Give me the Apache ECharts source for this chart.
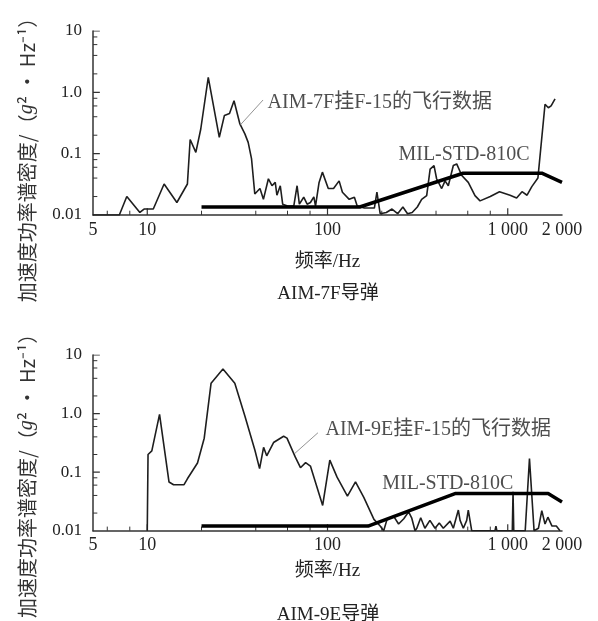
<!DOCTYPE html>
<html>
<head>
<meta charset="utf-8">
<script src="https://cdn.jsdelivr.net/npm/echarts@6/dist/echarts.min.js"></script>
<style>
  html, body { margin: 0; background: #fff; }
  #chart { width: 598px; height: 621px; }
</style>
</head>
<body>
<div id="chart"></div>
<script>
// tick values / labels
const xTickValues = [5, 10, 100, 1000, 2000];
const xTickLabels = ['5', '10', '100', '1 000', '2 000'];
const xMajorTicks = [10, 100, 1000];
const xMinorTicks = [6, 8, 20, 40, 60, 80, 200, 400, 600, 800];
const yTickValues = [0.01, 0.1, 1, 10];
const yTickLabels = ['0.01', '0.1', '1.0', '10'];
const yMajorTicks = [0.1, 1, 10];
const yMinorTicks = [0.02, 0.04, 0.06, 0.08, 0.2, 0.4, 0.6, 0.8, 2, 4, 6, 8];

// AIM-7F on F-15, flight data [Hz, g^2/Hz]
const aim7fFlight = [
  [5, 0.01], [7, 0.01], [7.7, 0.02], [9.1, 0.011], [9.6, 0.0125], [10.8, 0.0125],
  [12.4, 0.032], [14.6, 0.016], [16.7, 0.032], [17.3, 0.17], [18.6, 0.105], [19.8, 0.25],
  [21.8, 1.75], [25.1, 0.185], [26.8, 0.42], [28.6, 0.45], [30.3, 0.73], [32.6, 0.31],
  [34.8, 0.21], [36.3, 0.153], [37.9, 0.082], [39.5, 0.022], [42.2, 0.027], [44.1, 0.018],
  [47, 0.039], [49.2, 0.03], [51.3, 0.034], [52.4, 0.021], [54.7, 0.03], [56.4, 0.015],
  [60, 0.014], [65, 0.014], [67.8, 0.03], [69.8, 0.015], [73.8, 0.0195], [77.1, 0.015],
  [80.4, 0.016], [84, 0.0197], [85.8, 0.014], [89.8, 0.034], [93.7, 0.05], [101, 0.027],
  [108, 0.027], [116, 0.036], [121, 0.0235], [132, 0.018], [141, 0.0195], [146, 0.0142],
  [160, 0.013], [182, 0.013], [188, 0.0235], [192, 0.0235], [196, 0.0105], [212, 0.011],
  [228, 0.0125], [245, 0.0105], [262, 0.0135], [278, 0.0105], [295, 0.011], [315, 0.0135],
  [333, 0.018], [355, 0.0207], [371, 0.056], [390, 0.064], [403, 0.039], [430, 0.027],
  [449, 0.036], [468, 0.03], [499, 0.064], [521, 0.068], [556, 0.044], [604, 0.034],
  [658, 0.0207], [702, 0.017], [800, 0.02], [900, 0.024], [1030, 0.021], [1120, 0.019],
  [1200, 0.024], [1280, 0.021], [1360, 0.029], [1470, 0.04], [1610, 0.64], [1680, 0.56],
  [1740, 0.6], [1830, 0.78]
];
const aim7fStd = [[20, 0.0135], [151, 0.0135], [565, 0.048], [1545, 0.048], [2000, 0.034]];

// AIM-9E on F-15, flight data
const aim9eFlight = [
  [10, 0.01], [10.1, 0.2], [10.6, 0.23], [11.7, 0.97], [13.2, 0.068], [14, 0.061], [16, 0.061],
  [16.7, 0.077], [19, 0.143], [20.7, 0.38], [22.6, 3.3], [26.3, 5.75], [30.6, 3.3], [34.8, 0.91],
  [39.6, 0.234], [42, 0.115], [44.2, 0.265], [46, 0.19], [50.2, 0.32], [57.1, 0.41], [59.6, 0.38],
  [66.3, 0.18], [70.8, 0.119], [75.6, 0.145], [80.4, 0.127], [94, 0.027], [103, 0.16], [113, 0.082],
  [129, 0.039], [143, 0.068], [159, 0.037], [181, 0.0156], [196, 0.012], [205, 0.01], [214, 0.0156],
  [233, 0.0176], [248, 0.013], [265, 0.016], [282, 0.021], [293, 0.0166], [306, 0.01], [313, 0.011],
  [329, 0.0166], [347, 0.011], [370, 0.015], [395, 0.011], [417, 0.0135], [439, 0.011], [479, 0.0146],
  [499, 0.011], [532, 0.0225], [544, 0.015], [567, 0.011], [592, 0.015], [604, 0.0225], [631, 0.01],
  [850, 0.01], [860, 0.012], [870, 0.01], [1060, 0.01], [1070, 0.046], [1080, 0.01], [1250, 0.01],
  [1320, 0.17], [1400, 0.01], [1480, 0.011], [1545, 0.022], [1610, 0.013], [1670, 0.017],
  [1760, 0.012], [1860, 0.012], [1950, 0.01]
];
const aim9eStd = [[20, 0.012], [168, 0.012], [510, 0.043], [1675, 0.043], [2000, 0.031]];

const panelTitles = ['AIM-7F导弹', 'AIM-9E导弹'];
const flightNotes = ['AIM-7F挂F-15的飞行数据', 'AIM-9E挂F-15的飞行数据'];
const stdNote = 'MIL-STD-810C';
const xName = '频率/Hz';
const yName = '加速度功率谱密度/（{it|g}² · Hz⁻¹）';

// where the notes sit, in data units
const noteAt = [
  { flight: [46.2, 0.68], std: [246, 0.095], leader: [[32.7, 0.29], [43.9, 0.75]] },
  { flight: [96.8, 0.53], std: [200, 0.063], leader: [[66, 0.21], [88.5, 0.47]] }
];

const FONT = "'Liberation Serif', 'Noto Sans CJK SC', serif";
const INK = '#222';
const X_MIN = 5, X_MAX = 2000, Y_MIN = 0.01, Y_MAX = 10;

function pickLabel(vals, labels) {
  return function (v) {
    const i = vals.findIndex(t => Math.abs(Math.log10(t) - Math.log10(v)) < 0.01);
    return i < 0 ? '' : labels[i];
  };
}

const grids = [
  { left: 93, right: 36, top: 31, height: 184 },
  { left: 93, right: 36, top: 355, height: 188 }
];
const xNameGap = [38, 31];
const yNamePad = [64, 56];

const xAxis = grids.map((g, gi) => ({
  type: 'log', gridIndex: gi, min: X_MIN, max: X_MAX, logBase: 10, position: 'bottom',
  axisLine: { show: true, onZero: false, lineStyle: { color: '#333', width: 1.5 } },
  axisTick: { show: false },
  axisLabel: {
    customValues: xTickValues, formatter: pickLabel(xTickValues, xTickLabels),
    margin: 6, color: INK, fontSize: 18, fontFamily: FONT
  },
  splitLine: { show: false },
  name: xName, nameLocation: 'middle', nameGap: xNameGap[gi],
  nameTextStyle: { color: INK, fontSize: 19, fontFamily: FONT }
}));

const yAxis = grids.map((g, gi) => ({
  type: 'log', gridIndex: gi, min: Y_MIN, max: Y_MAX, logBase: 10, position: 'left',
  axisLine: { show: true, onZero: false, lineStyle: { color: '#333', width: 1.5 } },
  axisTick: { show: false },
  axisLabel: {
    customValues: yTickValues, formatter: pickLabel(yTickValues, yTickLabels),
    margin: 11, color: INK, fontSize: 17, fontFamily: FONT
  },
  splitLine: { show: false },
  name: yName, nameLocation: 'middle', nameGap: 56, nameRotate: 90,
  nameTextStyle: {
    color: '#333', fontSize: 20, fontFamily: "'Noto Sans CJK SC', sans-serif",
    padding: [0, yNamePad[gi], 0, 0],
    rich: { it: { fontStyle: 'italic', fontSize: 20, fontFamily: FONT, color: '#333' } }
  }
}));

// inward tick marks: short line segments on the log axes
// (axisTick on log axes only draws the two ends here)
const tickSeries = [];
function addTicks(gi) {
  const ax = { xAxisIndex: gi, yAxisIndex: gi };
  const mk = (data, w) => tickSeries.push({
    type: 'line', ...ax, data: data, showSymbol: false, silent: true, z: 1,
    lineStyle: { color: '#333', width: w }
  });
  const xs = [];
  xMajorTicks.forEach(v => xs.push([v, Y_MIN], [v, Y_MIN * Math.pow(10, 0.11)], '-'));
  mk(xs, 1.2);
  const xm = [];
  xMinorTicks.forEach(v => xm.push([v, Y_MIN], [v, Y_MIN * Math.pow(10, 0.07)], '-'));
  mk(xm, 1);
  const ys = [];
  yMajorTicks.forEach(v => ys.push([X_MIN, v], [X_MIN * Math.pow(10, 0.038), v], '-'));
  mk(ys, 1.2);
  const ym = [];
  yMinorTicks.forEach(v => ym.push([X_MIN, v], [X_MIN * Math.pow(10, 0.024), v], '-'));
  mk(ym, 1);
}

const flights = [aim7fFlight, aim9eFlight];
const stds = [aim7fStd, aim9eStd];
const series = [];
grids.forEach((g, gi) => {
  const ax = { xAxisIndex: gi, yAxisIndex: gi };
  addTicks(gi);
  series.push({
    type: 'line', ...ax, data: flights[gi], showSymbol: false, silent: true, z: 2,
    lineStyle: { color: '#1e1e1e', width: 1.6 }
  });
  series.push({
    type: 'line', ...ax, data: stds[gi], showSymbol: false, silent: true, z: 3,
    lineStyle: { color: '#000', width: 3.5 }
  });
  series.push({
    type: 'line', ...ax, data: noteAt[gi].leader, showSymbol: false, silent: true, z: 4,
    lineStyle: { color: '#777', width: 0.8 }
  });
  series.push({
    type: 'scatter', ...ax, silent: true, z: 5, symbolSize: 1,
    itemStyle: { color: 'rgba(0,0,0,0)' },
    label: {
      show: true, position: 'right', distance: 0, formatter: '{b}',
      color: INK, fontSize: 20, fontFamily: FONT
    },
    data: [
      { name: flightNotes[gi], value: noteAt[gi].flight },
      { name: stdNote, value: noteAt[gi].std }
    ]
  });
});

const chart = echarts.init(document.getElementById('chart'));
chart.setOption({
  backgroundColor: '#fff',
  animation: false,
  title: panelTitles.map((t, i) => ({
    text: t, left: 328, top: [285, 606][i], textAlign: 'center', padding: 0,
    textStyle: { color: INK, fontSize: 19, fontWeight: 'normal', fontFamily: FONT }
  })),
  grid: grids,
  xAxis: xAxis,
  yAxis: yAxis,
  series: tickSeries.concat(series)
});
</script>
</body>
</html>
